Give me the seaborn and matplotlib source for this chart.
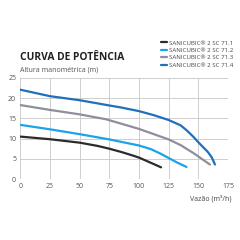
import matplotlib
matplotlib.use('Agg')
import matplotlib.pyplot as plt
import numpy as np
import pandas as pd
import seaborn as sb

# curve points
x_711 = [0, 25, 50, 65, 75, 85, 96, 100, 107, 118.6]
y_711 = [10.5, 9.85, 9.0, 8.2, 7.5, 6.7, 5.7, 5.3, 4.4, 2.9]
x_712 = [0, 25, 50, 75, 85, 100, 110, 118, 125, 132, 140]
y_712 = [13.4, 12.3, 11.1, 9.8, 9.2, 8.3, 7.4, 6.3, 5.2, 4.1, 3.0]
x_713 = [0, 25, 50, 72, 85, 100, 112.5, 125, 135, 146, 159.7]
y_713 = [18.3, 17.1, 16.0, 14.8, 13.7, 12.4, 11.1, 9.8, 8.4, 6.4, 3.6]
x_714 = [0, 25, 50, 75, 85, 100, 112.5, 125, 135, 140, 146, 150, 154, 158, 161, 162.5, 164]
y_714 = [22.1, 20.5, 19.5, 18.2, 17.7, 16.8, 15.8, 14.6, 13.3, 12.1, 10.4, 9.1, 7.9, 6.7, 5.5, 4.6, 3.6]

names = ['SANICUBIC® 2 SC 71.1', 'SANICUBIC® 2 SC 71.2',
         'SANICUBIC® 2 SC 71.3', 'SANICUBIC® 2 SC 71.4']
colors = ['#2b2b2b', '#1aa3e6', '#8e8e9e', '#1f6fbd']

rows = []
for n, xs, ys in zip(names, [x_711, x_712, x_713, x_714], [y_711, y_712, y_713, y_714]):
    for a, b in zip(xs, ys):
        rows.append({'Vazao': a, 'Altura': b, 'Modelo': n})
df = pd.DataFrame(rows)

sb.set_style('white')
plt.rcParams['font.family'] = ['Open Sans', 'DejaVu Sans']

fig = plt.figure(figsize=[2.4, 2.4], dpi=100)
ax = fig.add_axes([0.085, 0.254, 0.865, 0.421])

sb.lineplot(data=df, x='Vazao', y='Altura', hue='Modelo', palette=colors,
            linewidth=1.6, ax=ax, legend=False, sort=False, estimator=None)
for ln in ax.lines:
    ln.set_solid_joinstyle('round')
    ln.set_solid_capstyle('round')

ax.set_xlim(0, 175)
ax.set_ylim(0, 25)
ax.set_xticks(np.arange(0, 176, 25))
ax.set_yticks(np.arange(0, 26, 5))
ax.grid(True, color='#c8c8c8', linewidth=0.6)
for s in ax.spines.values():
    s.set_visible(False)
ax.tick_params(length=0, labelsize=5, colors='#555555', pad=3)
ax.set_xlabel('')
ax.set_ylabel('')

fig.text(0.083, 0.752, 'CURVA DE POTÊNCIA', fontsize=7.4, fontweight='bold', color='#222222')
fig.text(0.083, 0.703, 'Altura manométrica (m)', fontsize=5, color='#555555')
fig.text(0.965, 0.165, 'Vazão (m³/h)', fontsize=5, color='#444444', ha='right')

handles = [plt.Line2D([0], [0], color=c, linewidth=1.6) for c in colors]
fig.legend(handles, names, loc='upper right', bbox_to_anchor=(0.985, 0.845),
           frameon=False, fontsize=4.4, handlelength=1.1, handletextpad=0.3,
           labelspacing=0.35, borderpad=0, labelcolor='#444444')

fig.savefig('out.png', dpi=100)
